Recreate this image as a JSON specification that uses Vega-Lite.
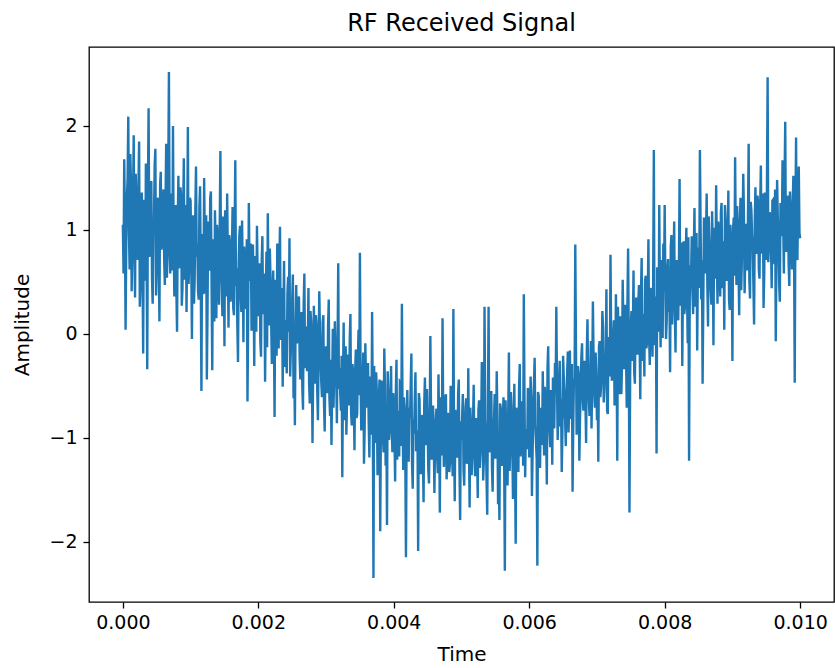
{
  "$schema": "https://vega.github.io/schema/vega-lite/v6.json",
  "width": 745,
  "height": 555,
  "autosize": "none",
  "padding": {"left": 89, "top": 47, "right": 1, "bottom": 66},
  "title": {"text": "RF Received Signal", "fontSize": 24, "font": "DejaVu Sans", "fontWeight": "normal", "color": "black", "offset": 11},
  "config": {
    "view": {"stroke": "black", "strokeWidth": 1.3},
    "axis": {"labelFont": "DejaVu Sans", "titleFont": "DejaVu Sans", "labelFontSize": 19, "titleFontSize": 20, "titleFontWeight": "normal", "labelColor": "black", "titleColor": "black", "tickColor": "black", "tickSize": 6, "tickWidth": 1.3, "grid": false, "domain": false}
  },
  "data": {"values": [
{"t":0,"a":1.05},{"t":0.00001,"a":0.58},{"t":0.00002,"a":1.68},{"t":0.00003,"a":1.12},{"t":0.00004,"a":0.04},{"t":0.00005,"a":0.86},{"t":0.00006,"a":1.32},{"t":0.00007,"a":1.49},{"t":0.00008,"a":2.09},{"t":0.00009,"a":0.97},{"t":0.0001,"a":0.62},{"t":0.00011,"a":1.73},{"t":0.00012,"a":1.45},{"t":0.00013,"a":0.41},{"t":0.00014,"a":0.88},{"t":0.00015,"a":1.26},{"t":0.00016,"a":1.91},{"t":0.00017,"a":0.79},{"t":0.00018,"a":0.35},{"t":0.00019,"a":1.54},
{"t":0.0002,"a":1.22},{"t":0.00021,"a":0.92},{"t":0.00022,"a":0.71},{"t":0.00023,"a":1.41},{"t":0.00024,"a":1.85},{"t":0.00025,"a":0.26},{"t":0.00026,"a":0.48},{"t":0.00027,"a":1.07},{"t":0.00028,"a":1.36},{"t":0.00029,"a":0.63},{"t":0.0003,"a":-0.19},{"t":0.00031,"a":1.29},{"t":0.00032,"a":1.02},{"t":0.00033,"a":0.51},{"t":0.00034,"a":1.64},{"t":0.00035,"a":0.84},{"t":0.00036,"a":-0.34},{"t":0.00037,"a":1.38},{"t":0.00038,"a":2.17},{"t":0.00039,"a":0.74},
{"t":0.0004,"a":0.83},{"t":0.00041,"a":1.18},{"t":0.00042,"a":1.47},{"t":0.00043,"a":0.55},{"t":0.00044,"a":0.29},{"t":0.00045,"a":0.98},{"t":0.00046,"a":1.12},{"t":0.00047,"a":1.63},{"t":0.00048,"a":1.78},{"t":0.00049,"a":0.37},{"t":0.0005,"a":0.66},{"t":0.00051,"a":1.21},{"t":0.00052,"a":1.31},{"t":0.00053,"a":0.69},{"t":0.00054,"a":0.12},{"t":0.00055,"a":1.44},{"t":0.00056,"a":1.56},{"t":0.00057,"a":0.81},{"t":0.00058,"a":0.94},{"t":0.00059,"a":1.1},
{"t":0.0006,"a":1.39},{"t":0.00061,"a":0.72},{"t":0.00062,"a":0.47},{"t":0.00063,"a":1.28},{"t":0.00064,"a":1.83},{"t":0.00065,"a":0.54},{"t":0.00066,"a":0.75},{"t":0.00067,"a":1.47},{"t":0.00068,"a":2.52},{"t":0.00069,"a":1.02},{"t":0.0007,"a":0.58},{"t":0.00071,"a":1.35},{"t":0.00072,"a":1.18},{"t":0.00073,"a":0.61},{"t":0.00074,"a":2.0},{"t":0.00075,"a":0.89},{"t":0.00076,"a":0.36},{"t":0.00077,"a":1.16},{"t":0.00078,"a":1.24},{"t":0.00079,"a":0.43},
{"t":0.0008,"a":0.02},{"t":0.00081,"a":1.07},{"t":0.00082,"a":1.52},{"t":0.00083,"a":0.63},{"t":0.00084,"a":0.91},{"t":0.00085,"a":1.41},{"t":0.00086,"a":1.33},{"t":0.00087,"a":0.27},{"t":0.00088,"a":0.44},{"t":0.00089,"a":1.15},{"t":0.0009,"a":1.69},{"t":0.00091,"a":0.52},{"t":0.00092,"a":0.78},{"t":0.00093,"a":1.24},{"t":0.00094,"a":0.21},{"t":0.00095,"a":0.95},{"t":0.00096,"a":1.99},{"t":0.00097,"a":0.48},{"t":0.00098,"a":0.67},{"t":0.00099,"a":1.31},
{"t":0.001,"a":1.28},{"t":0.00101,"a":0.66},{"t":0.00102,"a":-0.05},{"t":0.00103,"a":1.03},{"t":0.00104,"a":1.14},{"t":0.00105,"a":0.29},{"t":0.00106,"a":0.52},{"t":0.00107,"a":1.18},{"t":0.00108,"a":1.61},{"t":0.00109,"a":0.74},{"t":0.0011,"a":0.87},{"t":0.00111,"a":0.41},{"t":0.00112,"a":0.33},{"t":0.00113,"a":1.22},{"t":0.00114,"a":1.42},{"t":0.00115,"a":0.57},{"t":0.00116,"a":-0.55},{"t":0.00117,"a":0.93},{"t":0.00118,"a":0.96},{"t":0.00119,"a":0.38},
{"t":0.0012,"a":1.5},{"t":0.00121,"a":0.87},{"t":0.00122,"a":0.39},{"t":0.00123,"a":1.14},{"t":0.00124,"a":-0.44},{"t":0.00125,"a":0.23},{"t":0.00126,"a":1.08},{"t":0.00127,"a":0.65},{"t":0.00128,"a":0.61},{"t":0.00129,"a":1.31},{"t":0.0013,"a":1.37},{"t":0.00131,"a":0.48},{"t":0.00132,"a":-0.35},{"t":0.00133,"a":0.91},{"t":0.00134,"a":0.82},{"t":0.00135,"a":0.12},{"t":0.00136,"a":1.19},{"t":0.00137,"a":0.76},{"t":0.00138,"a":0.15},{"t":0.00139,"a":1.05},
{"t":0.0014,"a":0.92},{"t":0.00141,"a":0.44},{"t":0.00142,"a":0.28},{"t":0.00143,"a":1.02},{"t":0.00144,"a":1.76},{"t":0.00145,"a":0.61},{"t":0.00146,"a":0.49},{"t":0.00147,"a":0.17},{"t":0.00148,"a":1.13},{"t":0.00149,"a":0.83},{"t":0.0015,"a":-0.12},{"t":0.00151,"a":1.19},{"t":0.00152,"a":0.74},{"t":0.00153,"a":0.36},{"t":0.00154,"a":1.35},{"t":0.00155,"a":0.72},{"t":0.00156,"a":0.06},{"t":0.00157,"a":0.95},{"t":0.00158,"a":0.88},{"t":0.00159,"a":0.31},
{"t":0.0016,"a":0.41},{"t":0.00161,"a":0.78},{"t":0.00162,"a":1.22},{"t":0.00163,"a":0.25},{"t":0.00164,"a":0.18},{"t":0.00165,"a":0.93},{"t":0.00166,"a":1.67},{"t":0.00167,"a":0.46},{"t":0.00168,"a":0.63},{"t":0.00169,"a":0.08},{"t":0.0017,"a":-0.27},{"t":0.00171,"a":0.69},{"t":0.00172,"a":0.95},{"t":0.00173,"a":1.04},{"t":0.00174,"a":0.37},{"t":0.00175,"a":0.21},{"t":0.00176,"a":1.09},{"t":0.00177,"a":0.57},{"t":0.00178,"a":-0.08},{"t":0.00179,"a":0.84},
{"t":0.0018,"a":0.72},{"t":0.00181,"a":0.33},{"t":0.00182,"a":0.24},{"t":0.00183,"a":0.91},{"t":0.00184,"a":-0.65},{"t":0.00185,"a":0.14},{"t":0.00186,"a":1.26},{"t":0.00187,"a":0.62},{"t":0.00188,"a":0.51},{"t":0.00189,"a":0.87},{"t":0.0019,"a":0.03},{"t":0.00191,"a":0.29},{"t":0.00192,"a":0.86},{"t":0.00193,"a":0.48},{"t":0.00194,"a":-0.31},{"t":0.00195,"a":0.75},{"t":0.00196,"a":0.59},{"t":0.00197,"a":0.02},{"t":0.00198,"a":1.04},{"t":0.00199,"a":0.56},
{"t":0.002,"a":0.17},{"t":0.00201,"a":0.42},{"t":0.00202,"a":0.68},{"t":0.00203,"a":-0.07},{"t":0.00204,"a":-0.22},{"t":0.00205,"a":0.71},{"t":0.00206,"a":0.94},{"t":0.00207,"a":0.19},{"t":0.00208,"a":0.35},{"t":0.00209,"a":0.58},{"t":0.0021,"a":-0.46},{"t":0.00211,"a":0.26},{"t":0.00212,"a":0.79},{"t":0.00213,"a":-0.13},{"t":0.00214,"a":1.16},{"t":0.00215,"a":0.47},{"t":0.00216,"a":0.08},{"t":0.00217,"a":0.82},{"t":0.00218,"a":0.53},{"t":0.00219,"a":0.11},
{"t":0.0022,"a":-0.29},{"t":0.00221,"a":0.35},{"t":0.00222,"a":0.61},{"t":0.00223,"a":0.04},{"t":0.00224,"a":-0.8},{"t":0.00225,"a":0.52},{"t":0.00226,"a":0.42},{"t":0.00227,"a":-0.21},{"t":0.00228,"a":0.87},{"t":0.00229,"a":0.28},{"t":0.0023,"a":-0.14},{"t":0.00231,"a":0.66},{"t":0.00232,"a":1.03},{"t":0.00233,"a":-0.06},{"t":0.00234,"a":0.26},{"t":0.00235,"a":0.44},{"t":0.00236,"a":-0.51},{"t":0.00237,"a":0.17},{"t":0.00238,"a":0.7},{"t":0.00239,"a":-0.32},
{"t":0.0024,"a":0.13},{"t":0.00241,"a":-0.18},{"t":0.00242,"a":-0.38},{"t":0.00243,"a":0.39},{"t":0.00244,"a":0.55},{"t":0.00245,"a":0.02},{"t":0.00246,"a":0.92},{"t":0.00247,"a":-0.41},{"t":0.00248,"a":-0.17},{"t":0.00249,"a":0.24},{"t":0.0025,"a":0.31},{"t":0.00251,"a":0.57},{"t":0.00252,"a":-0.62},{"t":0.00253,"a":-0.26},{"t":0.00254,"a":-0.88},{"t":0.00255,"a":0.11},{"t":0.00256,"a":0.47},{"t":0.00257,"a":-0.09},{"t":0.00258,"a":-0.05},{"t":0.00259,"a":0.33},
{"t":0.0026,"a":0.36},{"t":0.00261,"a":-0.21},{"t":0.00262,"a":-0.44},{"t":0.00263,"a":0.14},{"t":0.00264,"a":0.21},{"t":0.00265,"a":-0.52},{"t":0.00266,"a":-0.73},{"t":0.00267,"a":0.29},{"t":0.00268,"a":0.58},{"t":0.00269,"a":-0.33},{"t":0.0027,"a":-0.09},{"t":0.00271,"a":0.07},{"t":0.00272,"a":-0.36},{"t":0.00273,"a":-0.15},{"t":0.00274,"a":0.44},{"t":0.00275,"a":-0.48},{"t":0.00276,"a":-0.67},{"t":0.00277,"a":0.22},{"t":0.00278,"a":0.12},{"t":0.00279,"a":-0.27},
{"t":0.0028,"a":-1.05},{"t":0.00281,"a":-0.36},{"t":0.00282,"a":0.27},{"t":0.00283,"a":-0.04},{"t":0.00284,"a":-0.48},{"t":0.00285,"a":0.18},{"t":0.00286,"a":0.09},{"t":0.00287,"a":-0.55},{"t":0.00288,"a":-0.83},{"t":0.00289,"a":-0.23},{"t":0.0029,"a":0.41},{"t":0.00291,"a":0.02},{"t":0.00292,"a":-0.26},{"t":0.00293,"a":-0.47},{"t":0.00294,"a":-0.61},{"t":0.00295,"a":0.11},{"t":0.00296,"a":0.18},{"t":0.00297,"a":-0.68},{"t":0.00298,"a":-0.94},{"t":0.00299,"a":-0.31},
{"t":0.003,"a":-0.12},{"t":0.00301,"a":-0.44},{"t":0.00302,"a":-0.57},{"t":0.00303,"a":0.08},{"t":0.00304,"a":0.33},{"t":0.00305,"a":-0.62},{"t":0.00306,"a":-0.79},{"t":0.00307,"a":-0.25},{"t":0.00308,"a":-1.07},{"t":0.00309,"a":-0.49},{"t":0.0031,"a":0.05},{"t":0.00311,"a":-0.71},{"t":0.00312,"a":-0.41},{"t":0.00313,"a":0.12},{"t":0.00314,"a":-0.18},{"t":0.00315,"a":-0.37},{"t":0.00316,"a":-0.86},{"t":0.00317,"a":-0.14},{"t":0.00318,"a":0.68},{"t":0.00319,"a":-0.53},
{"t":0.0032,"a":-0.33},{"t":0.00321,"a":-0.58},{"t":0.00322,"a":-0.74},{"t":0.00323,"a":-0.21},{"t":0.00324,"a":-1.38},{"t":0.00325,"a":-0.47},{"t":0.00326,"a":0.11},{"t":0.00327,"a":-0.83},{"t":0.00328,"a":-0.52},{"t":0.00329,"a":-0.12},{"t":0.0033,"a":-0.97},{"t":0.00331,"a":-0.64},{"t":0.00332,"a":-0.2},{"t":0.00333,"a":-0.39},{"t":0.00334,"a":-0.69},{"t":0.00335,"a":-0.06},{"t":0.00336,"a":0.19},{"t":0.00337,"a":-0.76},{"t":0.00338,"a":-0.88},{"t":0.00339,"a":-0.29},
{"t":0.0034,"a":-0.38},{"t":0.00341,"a":-0.67},{"t":0.00342,"a":-1.12},{"t":0.00343,"a":-0.35},{"t":0.00344,"a":-0.15},{"t":0.00345,"a":-0.81},{"t":0.00346,"a":-0.77},{"t":0.00347,"a":-0.24},{"t":0.00348,"a":0.04},{"t":0.00349,"a":-0.59},{"t":0.0035,"a":0.78},{"t":0.00351,"a":-0.43},{"t":0.00352,"a":-0.93},{"t":0.00353,"a":-0.72},{"t":0.00354,"a":-0.46},{"t":0.00355,"a":-0.18},{"t":0.00356,"a":-1.25},{"t":0.00357,"a":-0.92},{"t":0.00358,"a":-0.09},{"t":0.00359,"a":-0.48},
{"t":0.0036,"a":-0.71},{"t":0.00361,"a":-0.52},{"t":0.00362,"a":-0.28},{"t":0.00363,"a":-0.86},{"t":0.00364,"a":-1.19},{"t":0.00365,"a":-0.41},{"t":0.00366,"a":-0.54},{"t":0.00367,"a":-0.97},{"t":0.00368,"a":0.21},{"t":0.00369,"a":-0.63},{"t":0.0037,"a":-2.35},{"t":0.00371,"a":-0.31},{"t":0.00372,"a":-0.83},{"t":0.00373,"a":-1.05},{"t":0.00374,"a":-0.37},{"t":0.00375,"a":-0.57},{"t":0.00376,"a":-1.36},{"t":0.00377,"a":-0.79},{"t":0.00378,"a":-0.62},{"t":0.00379,"a":-0.44},
{"t":0.0038,"a":-1.9},{"t":0.00381,"a":-0.88},{"t":0.00382,"a":-0.45},{"t":0.00383,"a":-0.62},{"t":0.00384,"a":-0.98},{"t":0.00385,"a":-1.14},{"t":0.00386,"a":-0.14},{"t":0.00387,"a":-0.51},{"t":0.00388,"a":-1.27},{"t":0.00389,"a":-0.79},{"t":0.0039,"a":-1.84},{"t":0.00391,"a":-0.36},{"t":0.00392,"a":-0.58},{"t":0.00393,"a":-1.02},{"t":0.00394,"a":-0.89},{"t":0.00395,"a":-0.69},{"t":0.00396,"a":-0.31},{"t":0.00397,"a":-0.93},{"t":0.00398,"a":-1.14},{"t":0.00399,"a":-0.57},
{"t":0.004,"a":-0.66},{"t":0.00401,"a":-0.97},{"t":0.00402,"a":-1.42},{"t":0.00403,"a":-0.58},{"t":0.00404,"a":-0.25},{"t":0.00405,"a":-1.21},{"t":0.00406,"a":-0.93},{"t":0.00407,"a":-0.74},{"t":0.00408,"a":-1.18},{"t":0.00409,"a":-0.46},{"t":0.0041,"a":-0.47},{"t":0.00411,"a":-1.08},{"t":0.00412,"a":0.29},{"t":0.00413,"a":-0.83},{"t":0.00414,"a":-1.31},{"t":0.00415,"a":-0.61},{"t":0.00416,"a":-0.72},{"t":0.00417,"a":-1.16},{"t":0.00418,"a":-2.15},{"t":0.00419,"a":-0.89},
{"t":0.0042,"a":-0.54},{"t":0.00421,"a":-1.03},{"t":0.00422,"a":-1.23},{"t":0.00423,"a":-0.71},{"t":0.00424,"a":-0.81},{"t":0.00425,"a":-0.49},{"t":0.00426,"a":-0.19},{"t":0.00427,"a":-1.26},{"t":0.00428,"a":-1.49},{"t":0.00429,"a":-0.82},{"t":0.0043,"a":-0.96},{"t":0.00431,"a":-0.64},{"t":0.00432,"a":-0.37},{"t":0.00433,"a":-1.13},{"t":0.00434,"a":-1.11},{"t":0.00435,"a":-0.93},{"t":0.00436,"a":-2.09},{"t":0.00437,"a":-0.57},{"t":0.00438,"a":-0.63},{"t":0.00439,"a":-1.09},
{"t":0.0044,"a":-1.35},{"t":0.00441,"a":-0.86},{"t":0.00442,"a":-0.78},{"t":0.00443,"a":-1.19},{"t":0.00444,"a":-1.62},{"t":0.00445,"a":-0.67},{"t":0.00446,"a":-0.42},{"t":0.00447,"a":-1.04},{"t":0.00448,"a":-1.07},{"t":0.00449,"a":-0.53},{"t":0.0045,"a":-0.88},{"t":0.00451,"a":-1.31},{"t":0.00452,"a":-1.44},{"t":0.00453,"a":-0.91},{"t":0.00454,"a":-0.02},{"t":0.00455,"a":-0.74},{"t":0.00456,"a":-1.21},{"t":0.00457,"a":-1.12},{"t":0.00458,"a":-0.69},{"t":0.00459,"a":-0.98},
{"t":0.0046,"a":-1.53},{"t":0.00461,"a":-1.08},{"t":0.00462,"a":-0.84},{"t":0.00463,"a":-0.72},{"t":0.00464,"a":-1.16},{"t":0.00465,"a":-1.34},{"t":0.00466,"a":-0.39},{"t":0.00467,"a":-0.89},{"t":0.00468,"a":-1.72},{"t":0.00469,"a":-0.61},{"t":0.0047,"a":-0.95},{"t":0.00471,"a":-1.17},{"t":0.00472,"a":0.15},{"t":0.00473,"a":-0.83},{"t":0.00474,"a":-1.28},{"t":0.00475,"a":-1.05},{"t":0.00476,"a":-0.61},{"t":0.00477,"a":-0.58},{"t":0.00478,"a":-1.4},{"t":0.00479,"a":-1.22},
{"t":0.0048,"a":-0.76},{"t":0.00481,"a":-0.91},{"t":0.00482,"a":-1.33},{"t":0.00483,"a":-1.24},{"t":0.00484,"a":-0.5},{"t":0.00485,"a":-0.68},{"t":0.00486,"a":-1.09},{"t":0.00487,"a":-1.37},{"t":0.00488,"a":0.24},{"t":0.00489,"a":-0.96},{"t":0.0049,"a":-1.61},{"t":0.00491,"a":-0.73},{"t":0.00492,"a":-0.87},{"t":0.00493,"a":-1.15},{"t":0.00494,"a":-1.19},{"t":0.00495,"a":-0.57},{"t":0.00496,"a":-0.44},{"t":0.00497,"a":-1.28},{"t":0.00498,"a":-1.79},{"t":0.00499,"a":-0.84},
{"t":0.005,"a":-1.02},{"t":0.00501,"a":-0.79},{"t":0.00502,"a":-0.58},{"t":0.00503,"a":-1.31},{"t":0.00504,"a":-1.46},{"t":0.00505,"a":-0.94},{"t":0.00506,"a":-0.71},{"t":0.00507,"a":-0.62},{"t":0.00508,"a":-1.25},{"t":0.00509,"a":-1.19},{"t":0.0051,"a":-0.33},{"t":0.00511,"a":-1.06},{"t":0.00512,"a":-1.67},{"t":0.00513,"a":-0.71},{"t":0.00514,"a":-0.92},{"t":0.00515,"a":-1.36},{"t":0.00516,"a":-1.13},{"t":0.00517,"a":-0.85},{"t":0.00518,"a":-0.49},{"t":0.00519,"a":-1.12},
{"t":0.0052,"a":-1.37},{"t":0.00521,"a":-0.88},{"t":0.00522,"a":-0.81},{"t":0.00523,"a":-1.16},{"t":0.00524,"a":-1.58},{"t":0.00525,"a":-0.73},{"t":0.00526,"a":-0.64},{"t":0.00527,"a":-1.29},{"t":0.00528,"a":-1.15},{"t":0.00529,"a":-0.95},{"t":0.0053,"a":-0.27},{"t":0.00531,"a":-0.61},{"t":0.00532,"a":-1.41},{"t":0.00533,"a":-1.22},{"t":0.00534,"a":0.26},{"t":0.00535,"a":-0.83},{"t":0.00536,"a":-0.99},{"t":0.00537,"a":-1.41},{"t":0.00538,"a":-1.74},{"t":0.00539,"a":-0.69},
{"t":0.0054,"a":0.26},{"t":0.00541,"a":-1.14},{"t":0.00542,"a":-1.08},{"t":0.00543,"a":-0.76},{"t":0.00544,"a":-0.55},{"t":0.00545,"a":-1.28},{"t":0.00546,"a":-1.52},{"t":0.00547,"a":-0.92},{"t":0.00548,"a":-0.83},{"t":0.00549,"a":-0.58},{"t":0.0055,"a":-1.2},{"t":0.00551,"a":-1.09},{"t":0.00552,"a":-0.36},{"t":0.00553,"a":-0.81},{"t":0.00554,"a":-1.64},{"t":0.00555,"a":-1.33},{"t":0.00556,"a":-1.79},{"t":0.00557,"a":-0.67},{"t":0.00558,"a":-0.72},{"t":0.00559,"a":-1.05},
{"t":0.0056,"a":-1.27},{"t":0.00561,"a":-0.85},{"t":0.00562,"a":-0.61},{"t":0.00563,"a":-1.21},{"t":0.00564,"a":-2.28},{"t":0.00565,"a":-0.64},{"t":0.00566,"a":-0.94},{"t":0.00567,"a":-1.13},{"t":0.00568,"a":-1.46},{"t":0.00569,"a":-0.77},{"t":0.0057,"a":-0.18},{"t":0.00571,"a":-1.32},{"t":0.00572,"a":-1.11},{"t":0.00573,"a":-0.56},{"t":0.00574,"a":-0.75},{"t":0.00575,"a":-1.02},{"t":0.00576,"a":-1.59},{"t":0.00577,"a":-0.89},{"t":0.00578,"a":-0.48},{"t":0.00579,"a":-1.24},
{"t":0.0058,"a":-2.02},{"t":0.00581,"a":-0.71},{"t":0.00582,"a":-0.86},{"t":0.00583,"a":-1.06},{"t":0.00584,"a":-1.33},{"t":0.00585,"a":-0.52},{"t":0.00586,"a":-0.29},{"t":0.00587,"a":-1.18},{"t":0.00588,"a":-1.07},{"t":0.00589,"a":-0.83},{"t":0.0059,"a":-0.65},{"t":0.00591,"a":-1.27},{"t":0.00592,"a":0.38},{"t":0.00593,"a":-0.61},{"t":0.00594,"a":-1.38},{"t":0.00595,"a":-0.94},{"t":0.00596,"a":-0.93},{"t":0.00597,"a":-1.11},{"t":0.00598,"a":-0.52},{"t":0.00599,"a":-0.68},
{"t":0.006,"a":-1.19},{"t":0.00601,"a":-0.93},{"t":0.00602,"a":-0.41},{"t":0.00603,"a":-0.62},{"t":0.00604,"a":-1.56},{"t":0.00605,"a":-1.14},{"t":0.00606,"a":-0.77},{"t":0.00607,"a":-0.48},{"t":0.00608,"a":-0.23},{"t":0.00609,"a":-0.87},{"t":0.0061,"a":-1.04},{"t":0.00611,"a":-1.21},{"t":0.00612,"a":-2.23},{"t":0.00613,"a":-0.56},{"t":0.00614,"a":-0.6},{"t":0.00615,"a":-0.99},{"t":0.00616,"a":-1.29},{"t":0.00617,"a":-0.71},{"t":0.00618,"a":-0.84},{"t":0.00619,"a":-1.07},
{"t":0.0062,"a":-0.36},{"t":0.00621,"a":-0.84},{"t":0.00622,"a":-1.17},{"t":0.00623,"a":-0.51},{"t":0.00624,"a":-0.69},{"t":0.00625,"a":-0.97},{"t":0.00626,"a":-1.45},{"t":0.00627,"a":-0.33},{"t":0.00628,"a":-0.12},{"t":0.00629,"a":-0.78},{"t":0.0063,"a":-0.93},{"t":0.00631,"a":-1.09},{"t":0.00632,"a":-0.54},{"t":0.00633,"a":-0.62},{"t":0.00634,"a":-1.26},{"t":0.00635,"a":-0.42},{"t":0.00636,"a":-0.81},{"t":0.00637,"a":-0.91},{"t":0.00638,"a":-0.28},{"t":0.00639,"a":-0.57},
{"t":0.0064,"a":0.26},{"t":0.00641,"a":-0.49},{"t":0.00642,"a":-1.02},{"t":0.00643,"a":-0.77},{"t":0.00644,"a":-0.47},{"t":0.00645,"a":-0.26},{"t":0.00646,"a":-0.89},{"t":0.00647,"a":-0.63},{"t":0.00648,"a":-1.33},{"t":0.00649,"a":-0.94},{"t":0.0065,"a":-0.21},{"t":0.00651,"a":-0.41},{"t":0.00652,"a":-0.74},{"t":0.00653,"a":-0.82},{"t":0.00654,"a":-1.08},{"t":0.00655,"a":-0.55},{"t":0.00656,"a":-0.38},{"t":0.00657,"a":-0.17},{"t":0.00658,"a":-0.95},{"t":0.00659,"a":-0.71},
{"t":0.0066,"a":-0.16},{"t":0.00661,"a":-0.62},{"t":0.00662,"a":-0.82},{"t":0.00663,"a":-0.29},{"t":0.00664,"a":-1.52},{"t":0.00665,"a":-0.88},{"t":0.00666,"a":-0.43},{"t":0.00667,"a":-0.46},{"t":0.00668,"a":0.86},{"t":0.00669,"a":-0.13},{"t":0.0067,"a":-0.97},{"t":0.00671,"a":-0.67},{"t":0.00672,"a":-0.31},{"t":0.00673,"a":-0.38},{"t":0.00674,"a":-1.22},{"t":0.00675,"a":-0.81},{"t":0.00676,"a":-0.58},{"t":0.00677,"a":-0.22},{"t":0.00678,"a":-0.09},{"t":0.00679,"a":-0.59},
{"t":0.0068,"a":-0.74},{"t":0.00681,"a":-0.31},{"t":0.00682,"a":-0.26},{"t":0.00683,"a":-0.65},{"t":0.00684,"a":-1.05},{"t":0.00685,"a":-0.18},{"t":0.00686,"a":0.14},{"t":0.00687,"a":-0.52},{"t":0.00688,"a":-0.62},{"t":0.00689,"a":-0.79},{"t":0.0069,"a":-0.39},{"t":0.00691,"a":-0.07},{"t":0.00692,"a":-0.91},{"t":0.00693,"a":-0.44},{"t":0.00694,"a":0.31},{"t":0.00695,"a":-0.23},{"t":0.00696,"a":-0.55},{"t":0.00697,"a":-0.71},{"t":0.00698,"a":-0.18},{"t":0.00699,"a":-0.36},
{"t":0.007,"a":-0.83},{"t":0.00701,"a":-0.47},{"t":0.00702,"a":-1.23},{"t":0.00703,"a":-0.12},{"t":0.00704,"a":-0.07},{"t":0.00705,"a":-0.61},{"t":0.00706,"a":-0.51},{"t":0.00707,"a":-0.28},{"t":0.00708,"a":0.22},{"t":0.00709,"a":0.06},{"t":0.0071,"a":-0.66},{"t":0.00711,"a":-0.53},{"t":0.00712,"a":-0.29},{"t":0.00713,"a":-0.19},{"t":0.00714,"a":0.43},{"t":0.00715,"a":-0.74},{"t":0.00716,"a":-0.77},{"t":0.00717,"a":-0.03},{"t":0.00718,"a":-0.12},{"t":0.00719,"a":-0.41},
{"t":0.0072,"a":0.76},{"t":0.00721,"a":-0.08},{"t":0.00722,"a":-0.45},{"t":0.00723,"a":-0.36},{"t":0.00724,"a":-0.03},{"t":0.00725,"a":0.13},{"t":0.00726,"a":-0.69},{"t":0.00727,"a":-0.47},{"t":0.00728,"a":0.38},{"t":0.00729,"a":-0.22},{"t":0.0073,"a":-1.22},{"t":0.00731,"a":0.26},{"t":0.00732,"a":-0.21},{"t":0.00733,"a":-0.58},{"t":0.00734,"a":0.17},{"t":0.00735,"a":-0.02},{"t":0.00736,"a":-0.58},{"t":0.00737,"a":-0.31},{"t":0.00738,"a":0.52},{"t":0.00739,"a":0.09},
{"t":0.0074,"a":-0.34},{"t":0.00741,"a":0.18},{"t":0.00742,"a":0.28},{"t":0.00743,"a":-0.24},{"t":0.00744,"a":-0.71},{"t":0.00745,"a":0.31},{"t":0.00746,"a":0.82},{"t":0.00747,"a":-0.12},{"t":0.00748,"a":-1.72},{"t":0.00749,"a":-0.43},{"t":0.0075,"a":0.09},{"t":0.00751,"a":0.22},{"t":0.00752,"a":-0.26},{"t":0.00753,"a":0.05},{"t":0.00754,"a":0.61},{"t":0.00755,"a":-0.37},{"t":0.00756,"a":-0.48},{"t":0.00757,"a":0.14},{"t":0.00758,"a":0.35},{"t":0.00759,"a":-0.19},
{"t":0.0076,"a":-0.19},{"t":0.00761,"a":0.27},{"t":0.00762,"a":0.47},{"t":0.00763,"a":-0.09},{"t":0.00764,"a":-0.63},{"t":0.00765,"a":0.38},{"t":0.00766,"a":0.73},{"t":0.00767,"a":-0.26},{"t":0.00768,"a":0.02},{"t":0.00769,"a":0.19},{"t":0.0077,"a":-0.41},{"t":0.00771,"a":0.51},{"t":0.00772,"a":0.56},{"t":0.00773,"a":-0.14},{"t":0.00774,"a":-0.08},{"t":0.00775,"a":0.33},{"t":0.00776,"a":0.91},{"t":0.00777,"a":-0.03},{"t":0.00778,"a":-0.3},{"t":0.00779,"a":0.44},
{"t":0.0078,"a":0.41},{"t":0.00781,"a":0.07},{"t":0.00782,"a":-0.22},{"t":0.00783,"a":0.52},{"t":0.00784,"a":1.77},{"t":0.00785,"a":-0.11},{"t":0.00786,"a":0.14},{"t":0.00787,"a":0.36},{"t":0.00788,"a":-1.15},{"t":0.00789,"a":0.63},{"t":0.0079,"a":0.63},{"t":0.00791,"a":0.02},{"t":0.00792,"a":1.24},{"t":0.00793,"a":0.29},{"t":0.00794,"a":-0.13},{"t":0.00795,"a":0.71},{"t":0.00796,"a":0.48},{"t":0.00797,"a":-0.04},{"t":0.00798,"a":0.87},{"t":0.00799,"a":0.41},
{"t":0.008,"a":1.24},{"t":0.00801,"a":0.48},{"t":0.00802,"a":-0.05},{"t":0.00803,"a":0.13},{"t":0.00804,"a":0.62},{"t":0.00805,"a":0.72},{"t":0.00806,"a":0.21},{"t":0.00807,"a":0.36},{"t":0.00808,"a":-0.37},{"t":0.00809,"a":0.84},{"t":0.0081,"a":0.95},{"t":0.00811,"a":0.09},{"t":0.00812,"a":0.38},{"t":0.00813,"a":0.57},{"t":0.00814,"a":1.08},{"t":0.00815,"a":0.24},{"t":0.00816,"a":-0.18},{"t":0.00817,"a":0.66},{"t":0.00818,"a":0.71},{"t":0.00819,"a":0.18},
{"t":0.0082,"a":0.13},{"t":0.00821,"a":0.61},{"t":0.00822,"a":1.49},{"t":0.00823,"a":0.27},{"t":0.00824,"a":0.46},{"t":0.00825,"a":0.88},{"t":0.00826,"a":-0.31},{"t":0.00827,"a":0.52},{"t":0.00828,"a":0.89},{"t":0.00829,"a":0.19},{"t":0.0083,"a":0.27},{"t":0.00831,"a":0.74},{"t":0.00832,"a":1.02},{"t":0.00833,"a":0.41},{"t":0.00834,"a":-0.09},{"t":0.00835,"a":0.93},{"t":0.00836,"a":-1.22},{"t":0.00837,"a":0.35},{"t":0.00838,"a":0.66},{"t":0.00839,"a":0.58},
{"t":0.0084,"a":0.94},{"t":0.00841,"a":0.39},{"t":0.00842,"a":0.19},{"t":0.00843,"a":0.81},{"t":0.00844,"a":1.21},{"t":0.00845,"a":0.26},{"t":0.00846,"a":0.55},{"t":0.00847,"a":0.97},{"t":0.00848,"a":-0.16},{"t":0.00849,"a":0.62},{"t":0.0085,"a":0.83},{"t":0.00851,"a":0.44},{"t":0.00852,"a":1.77},{"t":0.00853,"a":1.06},{"t":0.00854,"a":0.33},{"t":0.00855,"a":0.71},{"t":0.00856,"a":-0.48},{"t":0.00857,"a":0.29},{"t":0.00858,"a":1.12},{"t":0.00859,"a":0.86},
{"t":0.0086,"a":0.58},{"t":0.00861,"a":0.92},{"t":0.00862,"a":1.35},{"t":0.00863,"a":0.47},{"t":0.00864,"a":0.07},{"t":0.00865,"a":1.13},{"t":0.00866,"a":0.91},{"t":0.00867,"a":0.66},{"t":0.00868,"a":0.42},{"t":0.00869,"a":0.28},{"t":0.0087,"a":1.18},{"t":0.00871,"a":0.84},{"t":0.00872,"a":-0.11},{"t":0.00873,"a":1.02},{"t":0.00874,"a":0.76},{"t":0.00875,"a":0.53},{"t":0.00876,"a":1.43},{"t":0.00877,"a":0.79},{"t":0.00878,"a":0.29},{"t":0.00879,"a":1.08},
{"t":0.0088,"a":0.97},{"t":0.00881,"a":0.61},{"t":0.00882,"a":0.36},{"t":0.00883,"a":1.17},{"t":0.00884,"a":1.26},{"t":0.00885,"a":0.44},{"t":0.00886,"a":0.68},{"t":0.00887,"a":0.89},{"t":0.00888,"a":0.04},{"t":0.00889,"a":1.24},{"t":0.0089,"a":1.09},{"t":0.00891,"a":0.57},{"t":0.00892,"a":0.51},{"t":0.00893,"a":0.82},{"t":0.00894,"a":1.38},{"t":0.00895,"a":0.33},{"t":0.00896,"a":0.23},{"t":0.00897,"a":1.05},{"t":0.00898,"a":0.85},{"t":0.00899,"a":0.69},
{"t":0.009,"a":-0.26},{"t":0.00901,"a":1.01},{"t":0.00902,"a":1.12},{"t":0.00903,"a":0.56},{"t":0.00904,"a":1.7},{"t":0.00905,"a":0.87},{"t":0.00906,"a":0.47},{"t":0.00907,"a":1.23},{"t":0.00908,"a":0.93},{"t":0.00909,"a":0.64},{"t":0.0091,"a":0.18},{"t":0.00911,"a":1.09},{"t":0.00912,"a":1.31},{"t":0.00913,"a":0.42},{"t":0.00914,"a":0.72},{"t":0.00915,"a":0.97},{"t":0.00916,"a":1.54},{"t":0.00917,"a":1.18},{"t":0.00918,"a":0.39},{"t":0.00919,"a":0.73},
{"t":0.0092,"a":1.06},{"t":0.00921,"a":0.69},{"t":0.00922,"a":0.61},{"t":0.00923,"a":1.14},{"t":0.00924,"a":1.83},{"t":0.00925,"a":0.52},{"t":0.00926,"a":0.34},{"t":0.00927,"a":1.27},{"t":0.00928,"a":1.19},{"t":0.00929,"a":0.96},{"t":0.0093,"a":0.82},{"t":0.00931,"a":0.48},{"t":0.00932,"a":0.09},{"t":0.00933,"a":1.08},{"t":0.00934,"a":1.41},{"t":0.00935,"a":0.81},{"t":0.00936,"a":0.77},{"t":0.00937,"a":1.33},{"t":0.00938,"a":1.25},{"t":0.00939,"a":0.62},
{"t":0.0094,"a":0.53},{"t":0.00941,"a":1.21},{"t":0.00942,"a":1.62},{"t":0.00943,"a":0.77},{"t":0.00944,"a":0.98},{"t":0.00945,"a":1.35},{"t":0.00946,"a":0.25},{"t":0.00947,"a":0.58},{"t":0.00948,"a":1.36},{"t":0.00949,"a":1.04},{"t":0.0095,"a":0.71},{"t":0.00951,"a":1.42},{"t":0.00952,"a":2.47},{"t":0.00953,"a":0.69},{"t":0.00954,"a":0.88},{"t":0.00955,"a":1.17},{"t":0.00956,"a":1.14},{"t":0.00957,"a":0.84},{"t":0.00958,"a":0.44},{"t":0.00959,"a":1.28},
{"t":0.0096,"a":1.29},{"t":0.00961,"a":0.86},{"t":0.00962,"a":0.67},{"t":0.00963,"a":1.39},{"t":0.00964,"a":-0.07},{"t":0.00965,"a":0.73},{"t":0.00966,"a":1.48},{"t":0.00967,"a":1.12},{"t":0.00968,"a":0.93},{"t":0.00969,"a":0.49},{"t":0.0097,"a":0.31},{"t":0.00971,"a":1.26},{"t":0.00972,"a":1.21},{"t":0.00973,"a":0.94},{"t":0.00974,"a":1.67},{"t":0.00975,"a":1.07},{"t":0.00976,"a":0.58},{"t":0.00977,"a":1.45},{"t":0.00978,"a":2.04},{"t":0.00979,"a":0.81},
{"t":0.0098,"a":0.79},{"t":0.00981,"a":1.15},{"t":0.00982,"a":1.33},{"t":0.00983,"a":0.68},{"t":0.00984,"a":0.46},{"t":0.00985,"a":1.37},{"t":0.00986,"a":1.18},{"t":0.00987,"a":0.92},{"t":0.00988,"a":0.62},{"t":0.00989,"a":1.24},{"t":0.0099,"a":1.52},{"t":0.00991,"a":0.87},{"t":0.00992,"a":-0.47},{"t":0.00993,"a":1.11},{"t":0.00994,"a":1.89},{"t":0.00995,"a":0.76},{"t":0.00996,"a":0.71},{"t":0.00997,"a":1.29},{"t":0.00998,"a":1.61},{"t":0.00999,"a":0.97},
{"t":0.01,"a":0.92}
  ]},
  "mark": {"type": "line", "color": "#1f77b4", "strokeWidth": 2.4, "clip": true},
  "encoding": {
    "x": {"field": "t", "type": "quantitative", "title": "Time",
      "scale": {"domain": [-0.0005, 0.0105], "nice": false, "zero": false},
      "axis": {"values": [0, 0.002, 0.004, 0.006, 0.008, 0.01], "format": ".3f", "labelPadding": 5, "titleY": 52, "titleBaseline": "middle"}},
    "y": {"field": "a", "type": "quantitative", "title": "Amplitude",
      "scale": {"domain": [-2.58, 2.76], "nice": false, "zero": false},
      "axis": {"values": [-2, -1, 0, 1, 2], "format": "d", "labelExpr": "replace(datum.label, '-', '\u2212')", "labelPadding": 6, "titleX": -67, "titleBaseline": "middle"}}
  }
}
